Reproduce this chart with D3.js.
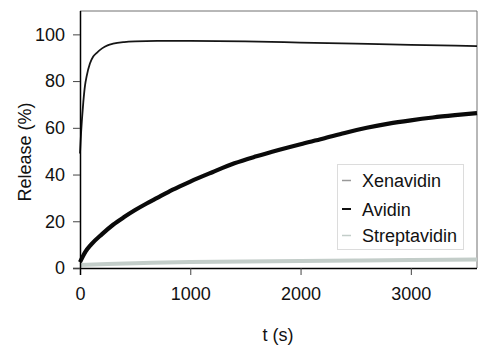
<!DOCTYPE html>
<html>
<head>
<meta charset="utf-8">
<script src="https://cdn.jsdelivr.net/npm/d3@7/dist/d3.min.js"></script>
<style>
  html, body { margin: 0; padding: 0; background: #fff; }
  svg { display: block; }
  text { font-family: "Liberation Sans", Arial, sans-serif; fill: #111; }
</style>
</head>
<body>
<svg id="chart" width="500" height="355"></svg>
<script>
// ---- data ----
const seriesNames = ["Xenavidin", "Avidin", "Streptavidin"];
const xTicks = [0, 1000, 2000, 3000];
const yTicks = [0, 20, 40, 60, 80, 100];

const xenavidinT = [0, 10, 20, 30, 45, 60, 90, 120, 150, 200, 250, 300, 400, 500, 700, 1000, 1500, 2000, 2500, 3000, 3600];
const xenavidinV = [49, 58, 65, 71, 78, 82, 87.5, 90.5, 92, 94, 95.3, 96, 96.7, 97, 97.2, 97.2, 97, 96.5, 96, 95.5, 95];

const avidinT = [0, 50, 100, 200, 300, 400, 500, 600, 700, 800, 900, 1000, 1200, 1400, 1600, 1800, 2000, 2200, 2400, 2600, 2800, 3000, 3200, 3400, 3600];
const avidinV = [2.5, 7, 10, 14.5, 18.5, 21.8, 24.8, 27.5, 30, 32.5, 34.8, 37, 41, 44.8, 47.8, 50.5, 53, 55.3, 57.8, 60, 61.8, 63.2, 64.4, 65.4, 66.3];

const streptT = [0, 250, 500, 1000, 1500, 2000, 2500, 3000, 3600];
const streptV = [1.3, 1.7, 2.0, 2.6, 2.8, 3.0, 3.2, 3.4, 3.6];

// ---- layout ----
const svg = d3.select("#chart");
const m = { left: 80, top: 11, right: 477, bottom: 268 };

const x = d3.scaleLinear().domain([0, 3600]).range([m.left, m.right]);
const y = d3.scaleLinear().domain([0, 110]).range([m.bottom, m.top]);

// frame (top and right, gray)
svg.append("path")
  .attr("d", `M${m.left},${m.top}H${m.right}V${m.bottom}`)
  .attr("fill", "none").attr("stroke", "#707070").attr("stroke-width", 1);

const line = d3.line().x(d => x(d[0])).y(d => y(d[1])).curve(d3.curveMonotoneX);

const series = [
  { name: "Streptavidin", t: streptT, v: streptV, color: "#c3cdc9", width: 4, legendColor: "#c3cdc9", legendWidth: 1.5 },
  { name: "Avidin", t: avidinT, v: avidinV, color: "#0a0a0a", width: 4.2, legendColor: "#111", legendWidth: 2 },
  { name: "Xenavidin", t: xenavidinT, v: xenavidinV, color: "#151515", width: 1.8, legendColor: "#999", legendWidth: 1.5 }
];

series.forEach(s => {
  svg.append("path")
    .datum(s.t.map((t, i) => [t, s.v[i]]))
    .attr("fill", "none")
    .attr("stroke", s.color)
    .attr("stroke-width", s.width)
    .attr("stroke-linejoin", "round")
    .attr("d", line);
});

// axes
const xAxis = svg.append("g")
  .attr("transform", `translate(0,${m.bottom})`)
  .call(d3.axisBottom(x).tickValues(xTicks).tickSize(7).tickPadding(12).tickFormat(d3.format("d")));
const yAxis = svg.append("g")
  .attr("transform", `translate(${m.left},0)`)
  .call(d3.axisLeft(y).tickValues(yTicks).tickSize(7).tickPadding(8).tickFormat(d3.format("d")));

[xAxis, yAxis].forEach(g => {
  g.select(".domain").attr("stroke", "#000").attr("stroke-width", 1.5);
  g.selectAll(".tick line").attr("stroke", "#444").attr("stroke-width", 1);
  g.selectAll(".tick text")
    .attr("font-family", '"Liberation Sans", Arial, sans-serif')
    .attr("font-size", 18).attr("fill", "#111");
});
xAxis.select(".domain").attr("d", `M${m.left - 7},0.5H${m.right}`);
yAxis.select(".domain").attr("d", `M0.5,${m.top}V${m.bottom + 7}`);
xAxis.selectAll(".tick").filter(d => d === 0).select("line").attr("y2", 7);

// axis titles
svg.append("text")
  .attr("x", 278).attr("y", 341)
  .attr("text-anchor", "middle")
  .attr("font-size", 18)
  .text("t (s)");
svg.append("text")
  .attr("transform", "translate(30.5,152) rotate(-90)")
  .attr("text-anchor", "middle")
  .attr("font-size", 18)
  .text("Release (%)");

// legend
const lg = svg.append("g");
lg.append("rect")
  .attr("x", 337.5).attr("y", 164.5).attr("width", 126).attr("height", 85)
  .attr("fill", "#fff").attr("stroke", "#dcdcdc").attr("stroke-width", 1);
const legendOrder = ["Xenavidin", "Avidin", "Streptavidin"];
const baselines = [187, 215.5, 242];
legendOrder.forEach((name, i) => {
  const s = series.find(d => d.name === name);
  lg.append("line")
    .attr("x1", 342).attr("x2", 351)
    .attr("y1", baselines[i] - 6.5).attr("y2", baselines[i] - 6.5)
    .attr("stroke", s.legendColor).attr("stroke-width", s.legendWidth);
  lg.append("text")
    .attr("x", 362).attr("y", baselines[i])
    .attr("font-size", 18)
    .text(name);
});
</script>
</body>
</html>
